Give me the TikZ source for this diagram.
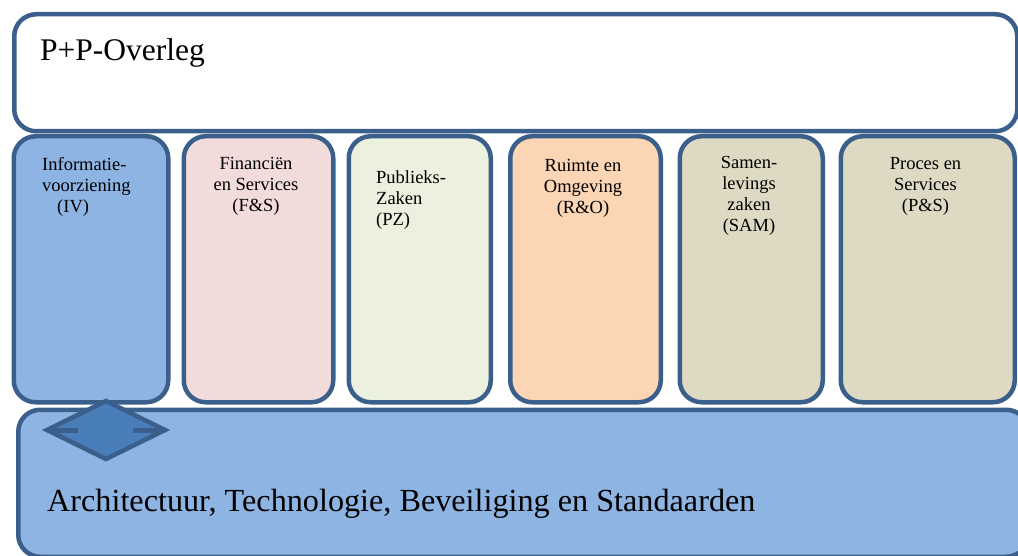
\documentclass[tikz,border=0pt]{standalone}
\usepackage{fontspec}
\setmainfont{Liberation Serif}
\definecolor{edge}{HTML}{3A5F8B}
\definecolor{ivfill}{HTML}{8EB4E3}
\definecolor{fsfill}{HTML}{F2DCDB}
\definecolor{pzfill}{HTML}{EBF1DE}
\definecolor{rofill}{HTML}{FCD5B5}
\definecolor{samfill}{HTML}{DDD9C3}
\definecolor{diafill}{HTML}{4A7EBB}
\begin{document}
\begin{tikzpicture}[x=1pt,y=-1pt,
  box/.style={draw=edge, line width=4.5pt, rounded corners=22pt, inner sep=0pt, anchor=north west},
  lbl/.style={font=\fontsize{18.5}{21}\selectfont, inner sep=0pt, anchor=north},
  big/.style={inner sep=0pt, anchor=base west}]
\useasboundingbox (0,0) rectangle (1018,556);
% top box
\node[box, fill=white, minimum width=1003pt, minimum height=117pt] (top) at (12,12) {};
% columns
\node[box, fill=ivfill,  minimum width=154.5pt, minimum height=266pt] (iv)  at (11.5,134) {};
\node[box, fill=fsfill,  minimum width=149.5pt, minimum height=266pt] (fs)  at (181.5,134) {};
\node[box, fill=pzfill,  minimum width=142pt,   minimum height=266pt] (pz)  at (346.5,134) {};
\node[box, fill=rofill,  minimum width=150.5pt, minimum height=266pt] (ro)  at (508,134) {};
\node[box, fill=samfill, minimum width=143pt,   minimum height=266pt] (sam) at (677.5,134) {};
\node[box, fill=samfill, minimum width=174pt,   minimum height=266pt] (ps)  at (838.5,134) {};
% bottom box
\node[box, fill=ivfill, minimum width=1010pt, minimum height=147pt] (bot) at (16,407.5) {};
% diamond
\coordinate (dt) at (106,401);
\coordinate (dr) at (165,430);
\coordinate (db) at (106,459);
\coordinate (dl) at (47,430);
\coordinate (dli) at (78,430);
\coordinate (dri) at (133,430);
\draw[draw=edge, fill=diafill, line width=4.5pt, line join=miter] (dt) -- (dr) -- (db) -- (dl) -- cycle;
\draw[edge, line width=5pt] (dl) -- (dli);
\draw[edge, line width=5pt] (dri) -- (dr);
% labels
\node[big, font=\fontsize{31.5}{36}\selectfont] (ttop) at (40,61) {P+P-Overleg};
\node[big, font=\fontsize{32.2}{36}\selectfont] (tbot) at (47,511) {Architectuur, Technologie, Beveiliging en Standaarden};
\node[lbl, anchor=north west, align=left] (tiv) at (42,157.5) {Informatie-\\voorziening\\\hspace*{15pt}(IV)};
\node[lbl, align=center] (tfs) at (256,157.5) {Financiën\\en Services\\(F\&S)};
\node[lbl, anchor=north west, align=left] (tpz) at (376,170.5) {Publieks-\\Zaken\\(PZ)};
\node[lbl, align=center] (tro) at (583,159.5) {Ruimte en\\Omgeving\\(R\&O)};
\node[lbl, align=center] (tsam) at (749,156.5) {Samen-\\levings\\zaken\\(SAM)};
\node[lbl, align=center] (tps) at (925.5,157.5) {Proces en\\Services\\(P\&S)};
\end{tikzpicture}
\end{document}
